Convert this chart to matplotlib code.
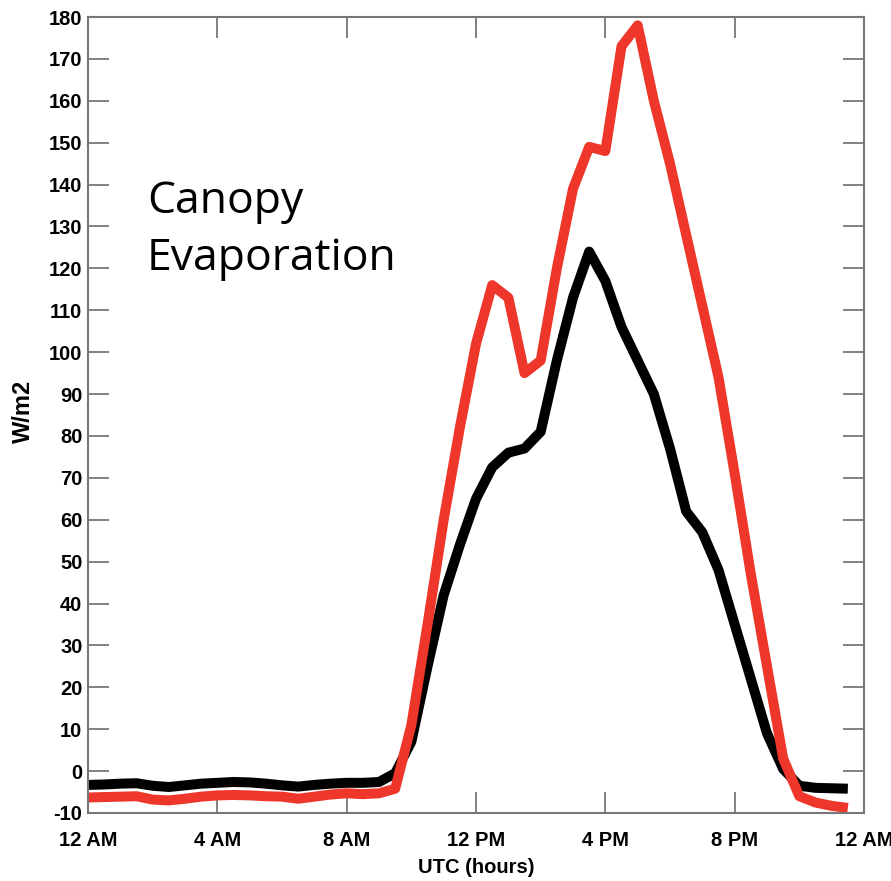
import numpy as np
import matplotlib
matplotlib.use('Agg')
import matplotlib.pyplot as plt
from matplotlib import font_manager

plt.rcParams['axes.unicode_minus'] = False

# half-hourly canopy evaporation (W/m2)
hours = np.arange(0, 24, 0.5)

red_vals = [-6.3, -6.2, -6.1, -6.0, -6.8, -7.0, -6.6, -6.1, -5.8, -5.7,
            -5.8, -6.0, -6.1, -6.6, -6.1, -5.6, -5.3, -5.5, -5.3, -4.2,
            11, 35, 60, 82, 102, 116, 113, 95, 98, 120,
            139, 149, 148, 173, 178, 160, 145, 128, 111, 94,
            71, 47, 25, 3, -6, -7.5, -8.3, -8.8]

black_vals = [-3.3, -3.2, -3.0, -2.9, -3.5, -3.8, -3.4, -3.0, -2.8, -2.6,
              -2.7, -3.0, -3.4, -3.7, -3.3, -3.0, -2.8, -2.8, -2.6, -0.5,
              7, 25, 42, 54, 65, 72.5, 76, 77, 81, 98,
              113, 124, 117, 106, 98, 90, 77, 62, 57, 48,
              35, 22, 9, 0.5, -3.5, -4, -4.1, -4.2]

xtick_pos = [0, 4, 8, 12, 16, 20, 24]
xtick_labels = ['12 AM', '4 AM', '8 AM', '12 PM', '4 PM', '8 PM', '12 AM']
ytick_pos = list(range(-10, 181, 10))

# narrow bold face for the axis text, if one is around
names = {f.name for f in font_manager.fontManager.ttflist}
tick_font = [n for n in ['Liberation Sans Narrow', 'DejaVu Sans Condensed']
             if n in names] + ['Liberation Sans']
narrow = tick_font[0] != 'Liberation Sans'
tsize = 17 if narrow else 14.5

fig = plt.figure(figsize=(8.91, 8.81), dpi=100)
ax = fig.add_axes([0.0988, 0.0772, 0.8709, 0.9035])

ax.plot(hours, black_vals, color='black', linewidth=7.2, solid_capstyle='butt')
ax.plot(hours, red_vals, color='#EE372A', linewidth=7.2, solid_capstyle='butt')

ax.set_xlim(0, 24)
ax.set_ylim(-10, 180)
ax.set_xticks(xtick_pos)
ax.set_xticklabels(xtick_labels)
ax.set_yticks(ytick_pos)

for sp in ax.spines.values():
    sp.set_color('#777777')
    sp.set_linewidth(1.5)

ax.tick_params(direction='in', length=15, width=1.3, color='#777777',
               top=True, right=True)
ax.tick_params(axis='x', pad=13)
ax.tick_params(axis='y', pad=4)
for lab in ax.get_xticklabels() + ax.get_yticklabels():
    lab.set_family(tick_font)
    lab.set_fontweight('bold')
    lab.set_fontsize(tsize)

ax.set_xlabel('UTC (hours)', family=tick_font, fontweight='bold', fontsize=tsize)
ax.xaxis.set_label_coords(0.5, -0.0565)
ax.set_ylabel('W/m2', family=['Liberation Sans', 'DejaVu Sans'],
              fontweight='bold', fontsize=17)
ax.yaxis.set_label_coords(-0.068, 0.504)

fig.text(147 / 891, 1 - 213 / 881, 'Canopy', family=['Open Sans', 'DejaVu Sans'],
         fontsize=32, va='baseline', ha='left')
fig.text(147 / 891, 1 - 270 / 881, 'Evaporation', family=['Open Sans', 'DejaVu Sans'],
         fontsize=32, va='baseline', ha='left')

fig.savefig('out.png', dpi=100)
